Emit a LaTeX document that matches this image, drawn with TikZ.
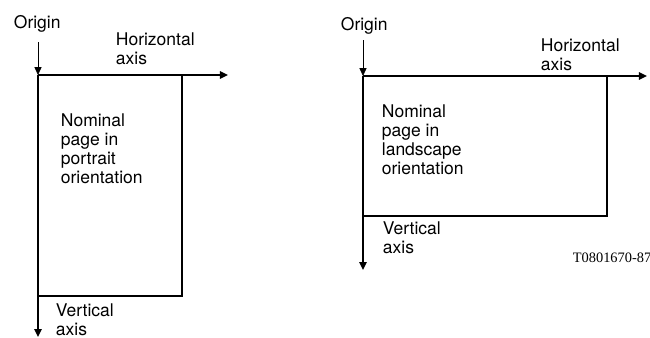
\documentclass[tikz,border=0pt]{standalone}
\usepackage{fontspec}
\setmainfont{TeX Gyre Heros}
\newfontfamily\tagfont{Liberation Serif}
\usetikzlibrary{arrows.meta}

\begin{document}
\begin{tikzpicture}[x=0.5pt,y=-0.5pt,line width=0.9pt,
  >={Triangle[length=4pt,width=3.6pt]},
  lbl/.style={anchor=base west,inner sep=0pt,align=left,
    font=\fontsize{8.75}{9.5}\selectfont}]
\useasboundingbox (0,0) rectangle (650,338);

% portrait page
\coordinate (pTop) at (38,42);
\coordinate (pO) at (38,75);
\coordinate (pH) at (228,75);
\coordinate (pV) at (38,337);
\coordinate (pC) at (182,296);

\draw[->,thin] (pTop) -- (pO);
\draw[->] (pO) -- (pH);
\draw[->] (pO) -- (pV);
\draw (pO -| pC) -- (pC) -- (pO |- pC);

% labels sit on the baseline of their last line
\node[lbl] (pOrig) at (13,28) {Origin};
\node[lbl] (pHor) at (115,64) {Horizontal\\axis};
\node[lbl] (pPage) at (60,183) {Nominal\\page in\\portrait\\orientation};
\node[lbl] (pVer) at (55,335) {Vertical\\axis};

% landscape page
\coordinate (lTop) at (363,40);
\coordinate (lO) at (363,76);
\coordinate (lH) at (647,76);
\coordinate (lV) at (363,270);
\coordinate (lC) at (607,216);

\draw[->,thin] (lTop) -- (lO);
\draw[->] (lO) -- (lH);
\draw[->] (lO) -- (lV);
\draw (lO -| lC) -- (lC) -- (lO |- lC);

\node[lbl] (lOrig) at (340,30) {Origin};
\node[lbl] (lHor) at (540,70) {Horizontal\\axis};
\node[lbl] (lPage) at (381,174) {Nominal\\page in\\landscape\\orientation};
\node[lbl] (lVer) at (382,253) {Vertical\\axis};

\node[lbl,font=\tagfont\fontsize{7.2}{8}\selectfont] (tag) at (572,262) {T0801670-87};

\end{tikzpicture}
\end{document}
